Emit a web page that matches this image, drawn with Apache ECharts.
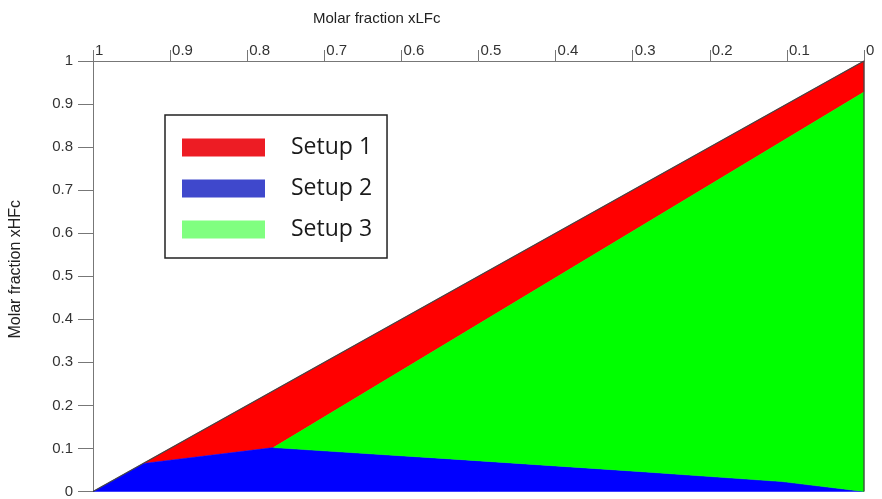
<!DOCTYPE html>
<html>
<head>
<meta charset="utf-8">
<script src="https://cdn.jsdelivr.net/npm/echarts@6/dist/echarts.min.js"></script>
<style>
html,body{margin:0;padding:0;background:#fff;}
#chart{width:882px;height:499px;}
</style>
</head>
<body>
<div id="chart"></div>
<script>
// ---- data (xLFc, xHFc) ----
const seriesNames = ['Setup 1', 'Setup 2', 'Setup 3'];
const tickLabels = ['0', '0.1', '0.2', '0.3', '0.4', '0.5', '0.6', '0.7', '0.8', '0.9', '1'];
// outer diagonal (xHFc = 1 - xLFc) and right edge
const outline = [[1, 0], [0, 1], [0, 0]];
// lower boundary of Setup 1 (red band)
const setup1Lower = [[0.935, 0.065], [0.766, 0.102], [0, 0.928]];
// upper boundary of Setup 2 (blue region)
const setup2Upper = [[1, 0], [0.935, 0.065], [0.766, 0.102], [0.522, 0.074], [0.288, 0.046], [0.106, 0.023], [0, 0]];

// polygons built from the arrays above
const setup1Poly = [setup1Lower[0], outline[1]].concat(setup1Lower.slice().reverse());
const setup3Poly = setup1Lower.slice(1).concat([outline[2]]).concat(
  setup2Upper.slice(2).reverse().slice(1)
);
const setup2Poly = setup2Upper.slice();

const fillColors = ['#ff0000', '#0000ff', '#00ff00'];
const legendColors = ['#ed1c24', '#3f48cc', '#80ff80'];
const polys = [setup1Poly, setup2Poly, setup3Poly];

function polySeries(i) {
  return {
    name: seriesNames[i],
    type: 'custom',
    coordinateSystem: 'cartesian2d',
    data: polys[i],
    silent: true,
    z: 2,
    renderItem: function (params, api) {
      if (params.dataIndex !== 0) return null;
      const pts = polys[i].map(p => api.coord(p));
      return {
        type: 'polygon',
        shape: { points: pts },
        style: { fill: fillColors[i], stroke: fillColors[i], lineWidth: 0.5 }
      };
    }
  };
}

const chart = echarts.init(document.getElementById('chart'));
chart.setOption({
  animation: false,
  backgroundColor: '#ffffff',
  title: {
    text: 'Molar fraction xLFc',
    left: 308, top: 6,
    textStyle: { fontSize: 15, fontWeight: 'normal', color: '#222', fontFamily: 'Liberation Sans' }
  },
  grid: { left: 92, right: 18, top: 61, bottom: 6 },
  legend: {
    left: 165, top: 115,
    orient: 'vertical',
    backgroundColor: '#ffffff',
    borderColor: '#222',
    borderWidth: 1.5,
    padding: [21, 15, 17, 17],
    itemWidth: 83, itemHeight: 18, itemGap: 18,
    selectedMode: false,
    textStyle: { fontSize: 23, color: '#1a1a1a', fontFamily: 'Open Sans', padding: [0, 0, 0, 21], lineHeight: 18 },
    data: seriesNames.map((n, i) => ({ name: n, icon: 'rect', itemStyle: { color: legendColors[i], borderWidth: 0 } }))
  },
  xAxis: {
    type: 'value', position: 'top', inverse: true,
    min: 0, max: 1, interval: 0.1,
    axisLine: { show: true, onZero: false, lineStyle: { color: '#777', width: 1 } },
    axisTick: { show: true, length: 11, lineStyle: { color: '#777' } },
    axisLabel: {
      align: 'left', margin: 3, padding: [0, 0, 0, 2],
      color: '#333', fontSize: 15, fontFamily: 'Liberation Sans',
      showMinLabel: true, showMaxLabel: true,
      formatter: v => tickLabels[Math.round(v * 10)]
    },
    splitLine: { show: false }
  },
  yAxis: {
    type: 'value', min: 0, max: 1, interval: 0.1,
    name: 'Molar fraction xHFc', nameLocation: 'middle', nameGap: 69, nameRotate: 90,
    nameTextStyle: { fontSize: 16, color: '#222', fontFamily: 'Liberation Sans', padding: [0, 0, 0, 14] },
    axisLine: { show: true, onZero: false, lineStyle: { color: '#777', width: 1 } },
    axisTick: { show: true, length: 15, lineStyle: { color: '#777' } },
    axisLabel: {
      margin: 20, color: '#333', fontSize: 15, fontFamily: 'Liberation Sans',
      formatter: v => tickLabels[Math.round(v * 10)]
    },
    splitLine: { show: false }
  },
  series: [
    polySeries(0), polySeries(1), polySeries(2),
    {
      type: 'line', data: outline, silent: true, symbol: 'none', z: 3,
      lineStyle: { color: '#444', width: 1.3 }
    }
  ]
});
</script>
</body>
</html>
